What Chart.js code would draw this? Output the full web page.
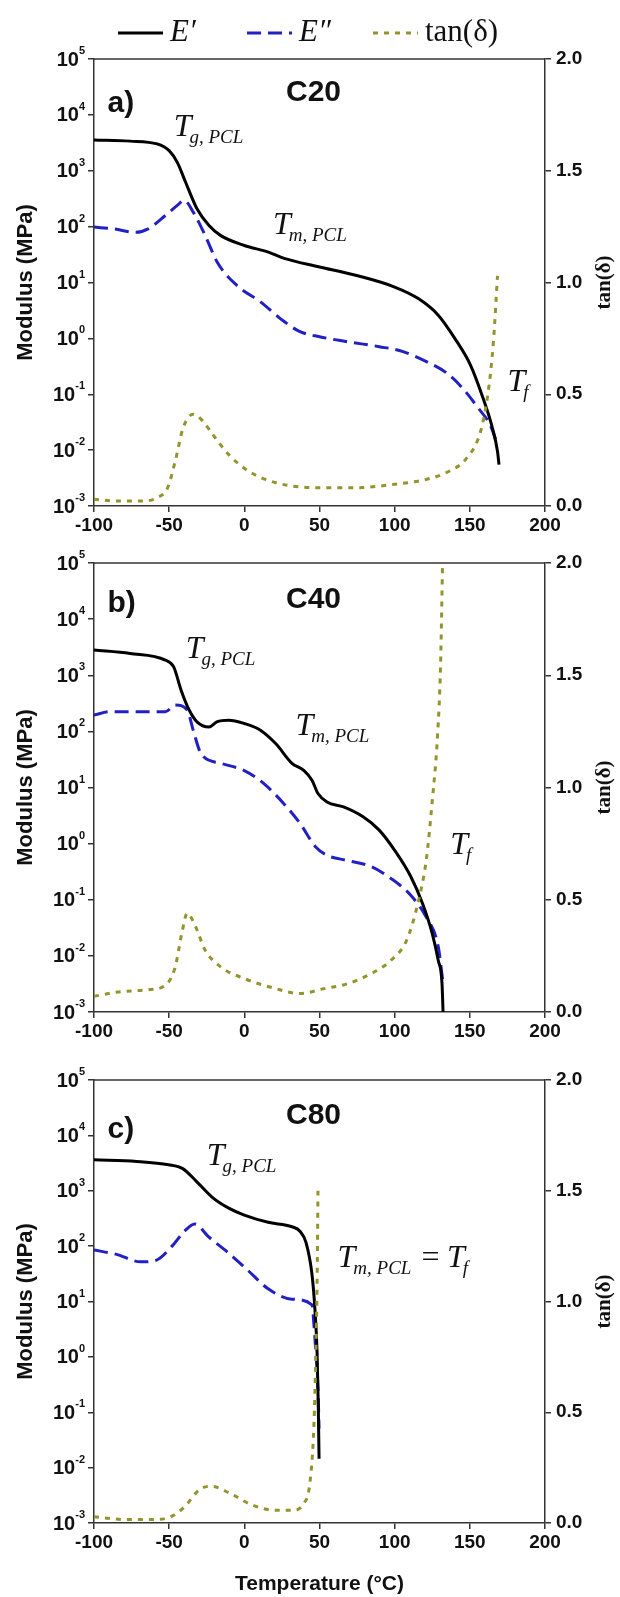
<!DOCTYPE html>
<html><head><meta charset="utf-8">
<script src="https://cdn.jsdelivr.net/npm/chart.js@4"></script>
<style>
body{margin:0;background:#fff}
#wrap{position:relative;width:620px;height:1597px;background:#fff}
canvas{position:absolute;left:0}
</style></head><body>
<div id="wrap">
<canvas id="ca" width="620" height="545" style="top:0"></canvas>
<canvas id="cb" width="620" height="500" style="top:545px"></canvas>
<canvas id="cc" width="620" height="552" style="top:1045px"></canvas>
</div>
<script>
// ===== DATA (temperature °C, modulus MPa, tan δ) =====
const EXP=[-3,-2,-1,0,1,2,3,4,5];
const TAN_TICKS=[0,0.5,1,1.5,2];
const X_TICKS=[-100,-50,0,50,100,150,200];

// C20
const C20_E1_T=[-100,-76,-58,-50,-44.6,-39,-31.5,-23.5,-15.6,0,16,26.5,50,74,100,116,129,140,150.5,158,165,168.4,169.4];
const C20_E1=[3550,3390,3020,2290,1410,617,209,105,69,46,35,27,19,13.5,8.3,5.1,2.6,1.0,0.33,0.098,0.025,0.0095,0.0055];
const C20_E2_T=[-100,-87,-72,-64,-52.5,-44.6,-40,-34,-26,-18,-5,10.7,26.5,37,50,68.7,89.8,105.6,121.5,134.6,145,155.7,163.6,168.4];
const C20_E2=[98,91,79,91,158,240,295,182,69,23,8.9,4.5,2.0,1.32,1.07,0.87,0.71,0.58,0.38,0.24,0.13,0.056,0.028,0.0126];
const C20_TD_T=[-100,-84,-68,-58,-51,-46,-40.7,-34,-29,-21,-10.4,2.8,21,47.6,74,100,121.5,134.6,148,157,162,165.7,168.4];
const C20_TD=[0.03,0.022,0.022,0.037,0.082,0.2,0.35,0.41,0.39,0.32,0.23,0.156,0.104,0.082,0.082,0.097,0.12,0.15,0.215,0.33,0.5,0.735,1.03];

// C40
const C40_E1_T=[-100,-76,-52.5,-47,-42,-36.7,-31.5,-23.5,-18.3,-10.4,0,10.7,21,31.7,39.7,45,49,55,66,79,89.7,100,110.7,118.6,125,129,131.5,132.3];
const C40_E1=[2820,2450,1860,1410,537,240,148,120,148,158,138,105,60,27,20,13.5,7.8,5.5,4.5,3.0,1.74,0.76,0.26,0.085,0.025,0.0083,0.0032,0.0008];
const C40_E2_T=[-100,-89.5,-71,-52.5,-46,-38,-34,-28.8,-15.8,0,13,26.4,37,47.5,55,68.6,84.4,97.5,110.7,121,129,132];
const C40_E2=[195,224,224,224,295,240,105,40,27,20,11.7,5.1,2.3,0.87,0.62,0.5,0.39,0.24,0.12,0.049,0.0145,0.0036];
const C40_TD_T=[-100,-84,-63,-52.5,-46,-41.6,-38,-32.8,-26,-15.6,0,21,37,53,68.6,84.4,97.5,108,116,121,125,128.6,130.5,132];
const C40_TD=[0.07,0.089,0.1,0.119,0.2,0.35,0.44,0.386,0.275,0.2,0.149,0.104,0.082,0.104,0.126,0.171,0.23,0.32,0.5,0.676,0.94,1.24,1.54,2.05];

// C80
const C80_E1_T=[-100,-71.6,-50.4,-41,-31.9,-21.3,-10.7,0,15.8,31.7,37,41,45,47,48.4,49.2,49.7];
const C80_E1=[3630,3390,2950,2510,1480,760,490,363,269,224,186,117,31,6.9,1.17,0.126,0.0145];
const C80_E2_T=[-100,-85,-69,-58.4,-47.8,-39.8,-33,-23.9,-10.7,2.6,15.8,31.7,45,46.3,47.6,49,49.7];
const C80_E2=[85,71,52,56,102,186,251,148,76,36,17,11,8.7,3.8,1.17,0.26,0.051];
const C80_TD_T=[-100,-79.6,-58.4,-47.8,-39.8,-29.2,-21.3,-10.7,5.3,21,31.7,39.7,43.7,46.3,47.6,48.4,49];
const C80_TD=[0.028,0.016,0.016,0.032,0.073,0.154,0.165,0.138,0.081,0.057,0.057,0.089,0.186,0.445,0.77,1.09,1.5];

const INK='#111',BLUE='#2020c4',OLIVE='#94942c';
const SANS="'Liberation Sans',Arial,sans-serif",SERIF="'Liberation Serif','Times New Roman',serif";
Chart.defaults.font.family=SANS;
Chart.defaults.color=INK;

const pts=(T,V)=>T.map((t,i)=>({x:t,y:V[i]}));
function sets(e1T,e1,e2T,e2,tdT,td){
  return [
    {label:'E′',data:pts(e1T,e1),yAxisID:'y',borderColor:'#000',borderWidth:3,order:2},
    {label:'E″',data:pts(e2T,e2),yAxisID:'y',borderColor:BLUE,borderWidth:3,borderDash:[14,7],order:3},
    {label:'tan(δ)',data:pts(tdT,td),yAxisID:'y1',borderColor:OLIVE,borderWidth:3,borderDash:[5,6],order:1}
  ];
}

// ===== PLUGINS =====
const frame={id:'frame',afterDraw(c){
  const a=c.chartArea,ctx=c.ctx;ctx.save();ctx.strokeStyle='#333';ctx.lineWidth=1.5;
  ctx.beginPath();ctx.moveTo(a.left,a.top);ctx.lineTo(a.right,a.top);ctx.stroke();
  // log tick labels 10^n
  const s=c.scales.y;ctx.fillStyle=INK;ctx.textBaseline='middle';
  s.ticks.forEach(t=>{
    const y=s.getPixelForValue(t.value),e=String(Math.round(Math.log10(t.value)));
    ctx.font='bold 11px '+SANS;ctx.textAlign='left';
    const x=s.right-9-ctx.measureText(e).width;
    ctx.fillText(e,x,y-8);
    ctx.font='bold 20px '+SANS;ctx.textAlign='right';
    ctx.fillText('10',x,y+1);
  });
  // right title, reads bottom to top
  ctx.translate(605,(a.top+a.bottom)/2);ctx.rotate(-Math.PI/2);
  ctx.font='bold 21px '+SERIF;ctx.textAlign='center';ctx.fillText('tan(δ)',0,0);
  ctx.restore();
}};
const notes={id:'notes',afterDraw(c,args,o){
  const ctx=c.ctx,sx=c.scales.x,sy=c.scales.y;ctx.save();ctx.fillStyle=INK;ctx.textBaseline='alphabetic';
  (o.items||[]).forEach(n=>{
    let x=sx.getPixelForValue(n.x);const y=sy.getPixelForValue(n.y);
    n.seg.forEach(([txt,k])=>{
      ctx.font=k==='s'?'italic 19px '+SERIF:k==='b'?'bold 30px '+SANS:'italic 32px '+SERIF;
      ctx.textAlign=n.center?'center':'left';
      ctx.fillText(txt,x,k==='s'?y+7:y);
      x+=ctx.measureText(txt).width+(k==='t'?-2:0);
    });
  });
  ctx.restore();
}};
const legend={id:'legendTop',afterDraw(c,args,o){
  if(!o.show)return;
  const ctx=c.ctx,xs=[118,247,373],fonts=['italic 31px ','italic 31px ','31px '];
  ctx.save();ctx.textBaseline='middle';
  c.data.datasets.forEach((d,i)=>{
    ctx.strokeStyle=d.borderColor;ctx.lineWidth=3;ctx.setLineDash(d.borderDash||[]);
    ctx.beginPath();ctx.moveTo(xs[i],33);ctx.lineTo(xs[i]+45,33);ctx.stroke();
    ctx.setLineDash([]);ctx.fillStyle=INK;ctx.font=fonts[i]+SERIF;ctx.textAlign='left';
    ctx.fillText(d.label,xs[i]+52,33);
  });
  ctx.restore();
}};

function panel(id,datasets,padTop,xH,items,opts){
  opts=opts||{};
  return new Chart(document.getElementById(id),{type:'line',
    data:{datasets},
    options:{responsive:false,animation:false,
      layout:{padding:{top:padTop,left:0,right:0,bottom:0}},
      elements:{point:{radius:0},line:{cubicInterpolationMode:'monotone',fill:false}},
      plugins:{legend:{display:false},tooltip:{enabled:false},notes:{items},legendTop:{show:!!opts.legend}},
      scales:{
        x:{type:'linear',min:-100,max:200,afterBuildTicks:s=>{s.ticks=X_TICKS.map(v=>({value:v}))},
          ticks:{font:{size:19,weight:'bold'},color:INK,padding:2,maxRotation:0},
          grid:{drawOnChartArea:false,tickLength:6,color:'#333',lineWidth:1.5},border:{color:'#333',width:1.5},
          title:{display:!!opts.xTitle,text:'Temperature (°C)',font:{size:21,weight:'bold'},color:INK,padding:{top:4,bottom:0}},
          afterFit:s=>{s.height=xH}},
        y:{type:'logarithmic',position:'left',min:1e-3,max:1e5,afterBuildTicks:s=>{s.ticks=EXP.map(e=>({value:Math.pow(10,e)}))},
          ticks:{callback:()=>''},
          grid:{drawOnChartArea:false,tickLength:6,color:'#333',lineWidth:1.5},border:{color:'#333',width:1.5},
          title:{display:true,text:'Modulus (MPa)',font:{size:22,weight:'bold'},color:INK,padding:{top:13,bottom:0}},
          afterFit:s=>{s.width=94}},
        y1:{type:'linear',position:'right',min:0,max:2,afterBuildTicks:s=>{s.ticks=TAN_TICKS.map(v=>({value:v}))},
          ticks:{callback:v=>v.toFixed(1),font:{size:19,weight:'bold'},color:INK,padding:5},
          grid:{drawOnChartArea:false,tickLength:6,color:'#333',lineWidth:1.5},border:{color:'#333',width:1.5},
          afterFit:s=>{s.width=75}}
      }},
    plugins:[frame,notes,legend]});
}

panel('ca',sets(C20_E1_T,C20_E1,C20_E2_T,C20_E2,C20_TD_T,C20_TD),59,39,[
  {x:-91,y:Math.pow(10,4.05),seg:[['a)','b']]},
  {x:46,y:Math.pow(10,4.25),center:true,seg:[['C20','b']]},
  {x:-47,y:Math.pow(10,3.62),seg:[['T','t'],['g, PCL','s']]},
  {x:19,y:Math.pow(10,1.87),seg:[['T','t'],['m, PCL','s']]},
  {x:175,y:Math.pow(10,-0.95),seg:[['T','t'],['f','s']]}
],{legend:true});

panel('cb',sets(C40_E1_T,C40_E1,C40_E2_T,C40_E2,C40_TD_T,C40_TD),18,33,[
  {x:-91,y:Math.pow(10,4.12),seg:[['b)','b']]},
  {x:46,y:Math.pow(10,4.2),center:true,seg:[['C40','b']]},
  {x:-39,y:Math.pow(10,3.3),seg:[['T','t'],['g, PCL','s']]},
  {x:34,y:Math.pow(10,1.93),seg:[['T','t'],['m, PCL','s']]},
  {x:137,y:Math.pow(10,-0.18),seg:[['T','t'],['f','s']]}
]);

panel('cc',sets(C80_E1_T,C80_E1,C80_E2_T,C80_E2,C80_TD_T,C80_TD),35,74,[
  {x:-91,y:Math.pow(10,3.95),seg:[['c)','b']]},
  {x:46,y:Math.pow(10,4.2),center:true,seg:[['C80','b']]},
  {x:-25,y:Math.pow(10,3.47),seg:[['T','t'],['g, PCL','s']]},
  {x:62,y:Math.pow(10,1.62),seg:[['T','t'],['m, PCL','s'],[' = ','t'],['T','t'],['f','s']]}
],{xTitle:true});
</script>
</body></html>
